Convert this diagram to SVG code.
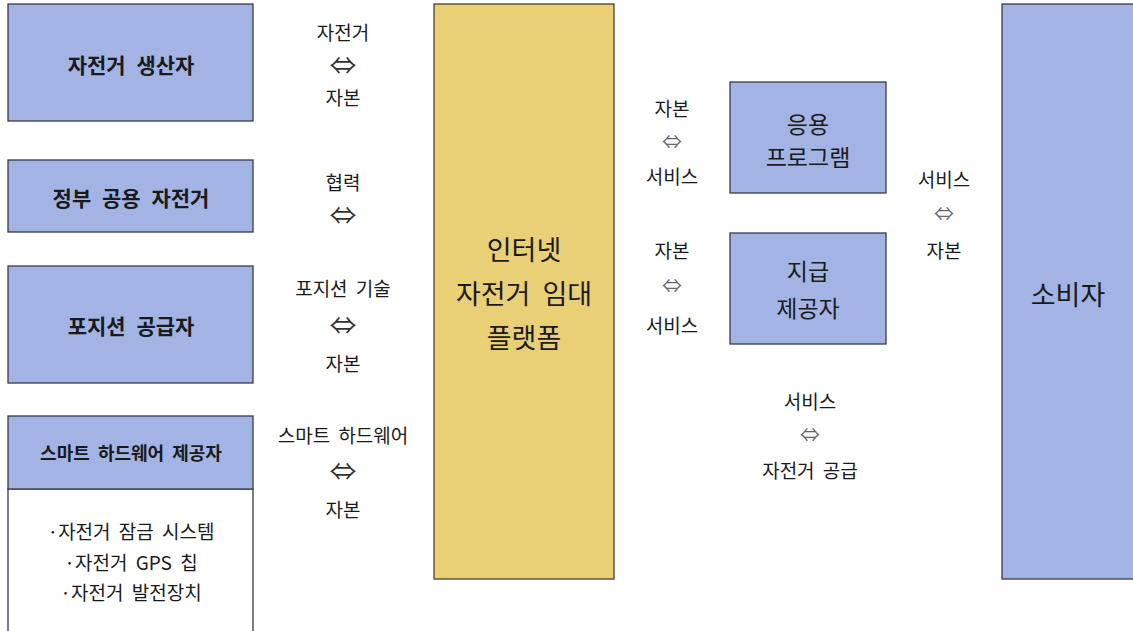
<svg xmlns="http://www.w3.org/2000/svg" width="1133" height="631" viewBox="0 0 1133 631">
<style>
.blue{fill:#a3b4e4;stroke:#3a3a4a;stroke-width:1.3}
.yellow{fill:#e9d077;stroke:#4a4030;stroke-width:1.3}
.white{fill:#ffffff;stroke:#3a3a4a;stroke-width:1.3}
text{font-family:"Noto Sans CJK KR","Noto Sans",sans-serif;fill:#1a1a1a;text-anchor:middle;dominant-baseline:central}
.b{font-weight:bold;font-size:21px;word-spacing:6px}
.bs{font-weight:bold;font-size:18px;word-spacing:4px}
.n{font-size:19px;word-spacing:4px}
.m{font-size:23px}
.l{font-size:27px;word-spacing:6px}
.arr{font-size:24px;fill:#333}
.arrs{font-size:19px;fill:#666}
</style>
<rect width="1133" height="631" fill="#ffffff"/>
<g id="producer">
<rect class="blue" x="8" y="4" width="245" height="117"/>
<text class="b" x="131" y="64">자전거 생산자</text>
</g>
<g id="government">
<rect class="blue" x="8" y="160" width="245" height="72"/>
<text class="b" x="131" y="197">정부 공용 자전거</text>
</g>
<g id="position">
<rect class="blue" x="8" y="266" width="245" height="117"/>
<text class="b" x="131" y="325">포지션 공급자</text>
</g>
<g id="hardware">
<rect class="white" x="8" y="489" width="245" height="150"/>
<rect class="blue" x="8" y="416" width="245" height="73"/>
<text class="bs" x="131" y="452">스마트 하드웨어 제공자</text>
<text class="n" x="131" y="530">·자전거 잠금 시스템</text>
<text class="n" x="131" y="561">·자전거 GPS 칩</text>
<text class="n" x="131" y="591">·자전거 발전장치</text>
</g>
<g id="platform">
<rect class="yellow" x="434" y="4" width="180" height="575"/>
<text class="l" x="524" y="248">인터넷</text>
<text class="l" x="524" y="292">자전거 임대</text>
<text class="l" x="524" y="336">플랫폼</text>
</g>
<g id="app">
<rect class="blue" x="730" y="82" width="156" height="111"/>
<text class="m" x="808" y="123">응용</text>
<text class="m" x="808" y="156">프로그램</text>
</g>
<g id="payment">
<rect class="blue" x="730" y="233" width="156" height="111"/>
<text class="m" x="808" y="270">지급</text>
<text class="m" x="808" y="307">제공자</text>
</g>
<g id="consumer">
<rect class="blue" x="1002" y="4" width="140" height="575"/>
<text class="l" x="1068" y="293">소비자</text>
</g>
<g id="connectors">
<text class="n" x="343" y="31">자전거</text>
<text class="arr" x="343" y="63" textLength="27" lengthAdjust="spacingAndGlyphs">⇔</text>
<text class="n" x="343" y="96">자본</text>
<text class="n" x="343" y="181">협력</text>
<text class="arr" x="343" y="213" textLength="27" lengthAdjust="spacingAndGlyphs">⇔</text>
<text class="n" x="343" y="287">포지션 기술</text>
<text class="arr" x="343" y="323" textLength="27" lengthAdjust="spacingAndGlyphs">⇔</text>
<text class="n" x="343" y="362">자본</text>
<text class="n" x="343" y="434">스마트 하드웨어</text>
<text class="arr" x="343" y="469" textLength="27" lengthAdjust="spacingAndGlyphs">⇔</text>
<text class="n" x="343" y="508">자본</text>
<text class="n" x="672" y="107">자본</text>
<text class="arrs" x="672" y="140" textLength="20" lengthAdjust="spacingAndGlyphs">⇔</text>
<text class="n" x="672" y="175">서비스</text>
<text class="n" x="672" y="249">자본</text>
<text class="arrs" x="672" y="284" textLength="20" lengthAdjust="spacingAndGlyphs">⇔</text>
<text class="n" x="672" y="324">서비스</text>
<text class="n" x="944" y="178">서비스</text>
<text class="arrs" x="944" y="212" textLength="20" lengthAdjust="spacingAndGlyphs">⇔</text>
<text class="n" x="944" y="249">자본</text>
<text class="n" x="810" y="400">서비스</text>
<text class="arrs" x="810" y="433" textLength="20" lengthAdjust="spacingAndGlyphs">⇔</text>
<text class="n" x="810" y="469">자전거 공급</text>
</g>
</svg>
